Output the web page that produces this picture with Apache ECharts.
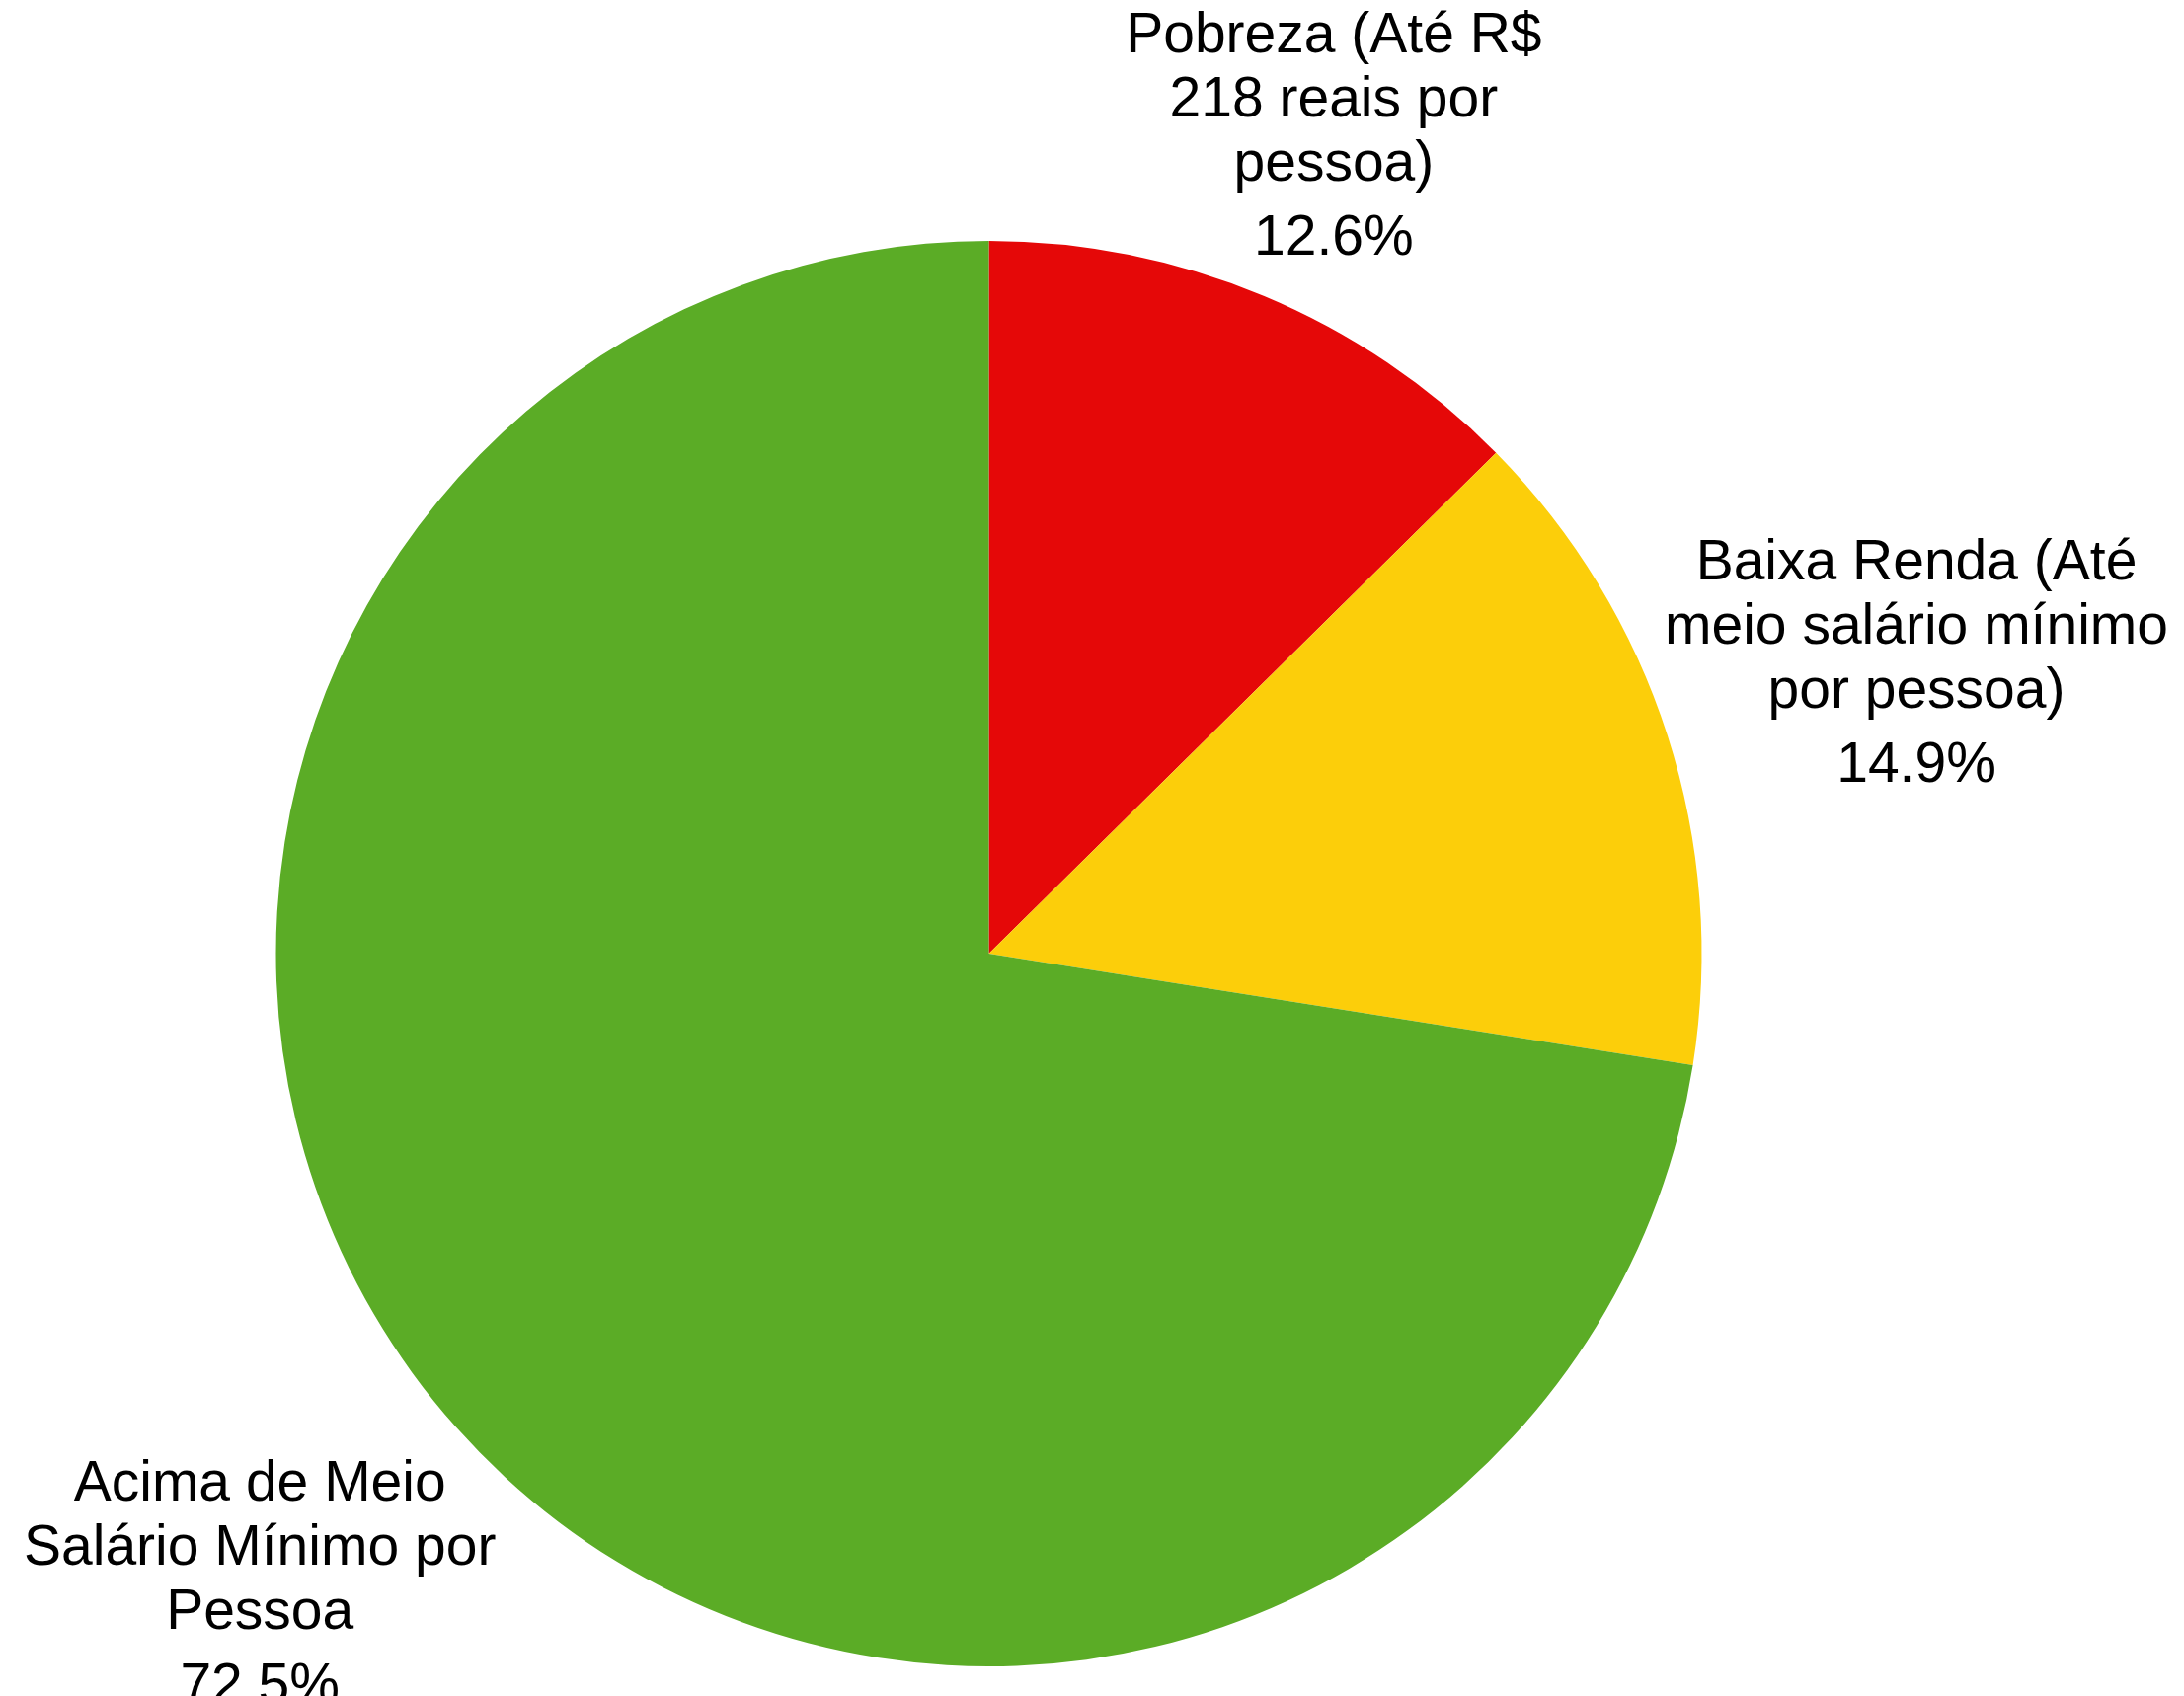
<!DOCTYPE html>
<html>
<head>
<meta charset="utf-8">
<script src="https://cdn.jsdelivr.net/npm/echarts@6/dist/echarts.min.js"></script>
<style>
html,body{margin:0;padding:0;background:#fff;}
#chart{width:2212px;height:1718px;}
</style>
</head>
<body>
<div id="chart"></div>
<script>
// Data
const categories = [
  'Pobreza (Até R$\n218 reais por\npessoa)',
  'Baixa Renda (Até\nmeio salário mínimo\npor pessoa)',
  'Acima de Meio\nSalário Mínimo por\nPessoa'
];
const values = [12.6, 14.9, 72.5];
const colors = ['#E50808', '#FCCE0A', '#5BAC26'];

const CENTER = [1001.5, 966];
const RADIUS = 722;
const GAP = -18;
const LABEL_DY = 15;
const FONT_SIZE = 57;
const FONT = 'Liberation Sans';

const total = values.reduce((a, b) => a + b, 0);

const measureCtx = document.createElement('canvas').getContext('2d');
measureCtx.font = FONT_SIZE + 'px "' + FONT + '"';
function blockWidth(i) {
  const lines = categories[i].split('\n').concat([values[i].toFixed(1) + '%']);
  return Math.max.apply(null, lines.map(l => measureCtx.measureText(l).width));
}

const chart = echarts.init(document.getElementById('chart'), null, {renderer: 'canvas'});
chart.setOption({
  backgroundColor: '#ffffff',
  animation: false,
  series: [{
    type: 'pie',
    center: CENTER,
    radius: RADIUS,
    startAngle: 90,
    clockwise: true,
    avoidLabelOverlap: false,
    data: categories.map((c, i) => ({
      name: c,
      value: values[i],
      itemStyle: {color: colors[i]}
    })),
    itemStyle: {borderWidth: 0},
    label: {
      show: true,
      position: 'outside',
      overflow: 'none',
      width: 600,
      color: '#000',
      fontFamily: FONT,
      formatter: p => p.name.split('\n').map(s => '{n|' + s + '}').join('\n') +
        '\n{p|' + p.value.toFixed(1) + '%}',
      rich: {
        n: {fontSize: FONT_SIZE, lineHeight: 65, color: '#000', fontFamily: FONT, align: 'center'},
        p: {fontSize: FONT_SIZE, lineHeight: 85, color: '#000', fontFamily: FONT, align: 'center'}
      }
    },
    labelLine: {show: false, length: 10, length2: 0},
    emphasis: {disabled: true},
    labelLayout: function (p) {
      const i = p.dataIndex;
      let before = 0;
      for (let k = 0; k < i; k++) before += values[k];
      const mid = (before + values[i] / 2) / total * 2 * Math.PI;
      const ux = Math.sin(mid), uy = -Math.cos(mid);
      const w = blockWidth(i);
      const h = p.labelRect.height;
      const s = Math.abs(ux) * w / 2 + Math.abs(uy) * h / 2 + GAP;
      return {
        x: CENTER[0] + ux * (RADIUS + s),
        y: CENTER[1] + uy * (RADIUS + s) + LABEL_DY,
        align: 'center',
        verticalAlign: 'middle'
      };
    }
  }]
});
</script>
</body>
</html>
